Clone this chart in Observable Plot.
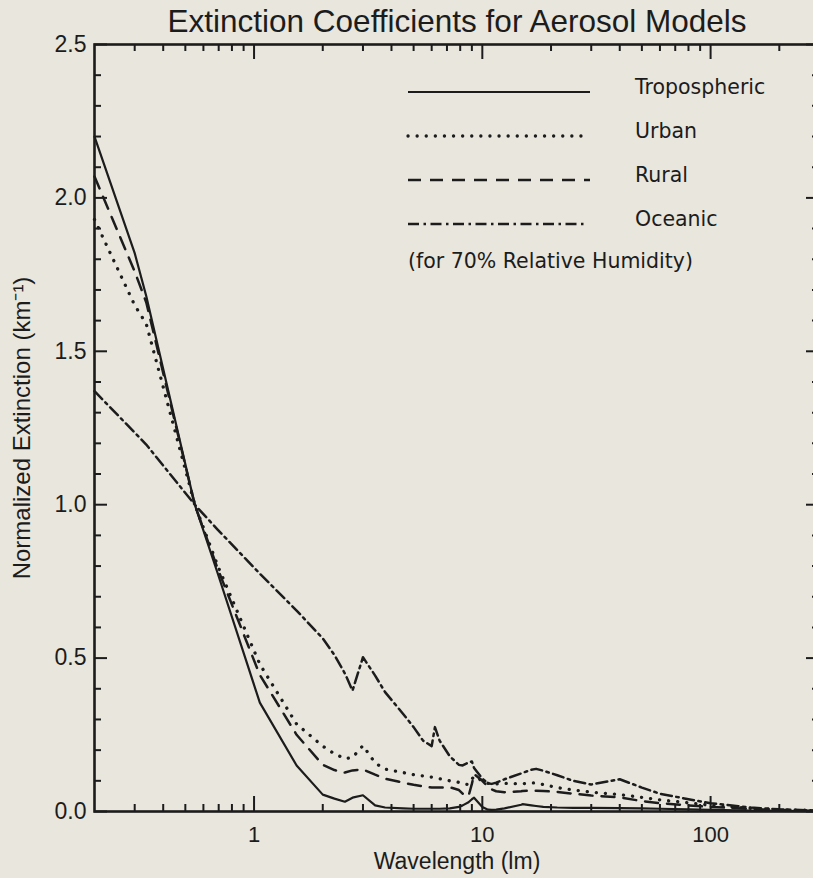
<!DOCTYPE html>
<html>
<head>
<meta charset="utf-8">
<script src="https://cdn.jsdelivr.net/npm/d3@7"></script>
<script src="https://cdn.jsdelivr.net/npm/@observablehq/plot@0.6"></script>
<style>
  html, body { margin: 0; padding: 0; background: #e8e6dd; overflow: hidden; }
  #chart { position: relative; width: 813px; height: 878px; overflow: hidden; }
  #chart svg { max-width: none !important; display: block; }
</style>
</head>
<body>
<div id="chart"></div>
<script>
// Wavelength grid (µm) of the aerosol extinction tables
const wavelengths = [0.2, 0.3, 0.337, 0.55, 0.694, 1.06, 1.536, 2.0, 2.25, 2.5, 2.7, 3.0,
  3.392, 3.75, 4.5, 5.0, 5.5, 6.0, 6.2, 6.5, 7.2, 7.9, 8.2, 8.7, 9.0, 9.2, 10.0, 10.591,
  11.0, 11.5, 12.5, 14.8, 15.0, 16.4, 17.2, 18.5, 21.3, 25.0, 30.0, 40.0, 50.0, 60.0,
  80.0, 100.0, 150.0, 200.0, 300.0];

// Extinction normalized to 1 at 0.55 µm, one array per aerosol model
const tropospheric = [2.20, 1.82, 1.68, 1.00, 0.775, 0.355, 0.15, 0.055, 0.042, 0.032, 0.045, 0.053,
  0.02, 0.013, 0.01, 0.009, 0.009, 0.009, 0.009, 0.009, 0.01, 0.015, 0.02, 0.03, 0.04, 0.045, 0.015, 0.006,
  0.005, 0.006, 0.01, 0.022, 0.024, 0.02, 0.018, 0.015, 0.013, 0.012, 0.012, 0.011, 0.01, 0.009,
  0.007, 0.005, 0.003, 0.002, 0.001];
const urban = [1.93, 1.65, 1.59, 1.00, 0.80, 0.48, 0.285, 0.213, 0.188, 0.172, 0.176, 0.215,
  0.158, 0.138, 0.127, 0.12, 0.116, 0.112, 0.11, 0.107, 0.10, 0.095, 0.09, 0.088, 0.105, 0.115, 0.10, 0.092,
  0.09, 0.09, 0.092, 0.09, 0.09, 0.093, 0.093, 0.088, 0.078, 0.07, 0.063, 0.055, 0.046, 0.038,
  0.028, 0.02, 0.01, 0.006, 0.003];
const rural = [2.07, 1.76, 1.66, 1.00, 0.79, 0.445, 0.25, 0.152, 0.135, 0.127, 0.134, 0.137,
  0.12, 0.107, 0.094, 0.087, 0.082, 0.078, 0.078, 0.078, 0.079, 0.07, 0.058, 0.05, 0.09, 0.122, 0.10, 0.08,
  0.072, 0.066, 0.063, 0.066, 0.067, 0.068, 0.068, 0.067, 0.064, 0.058, 0.052, 0.046, 0.034, 0.027,
  0.02, 0.015, 0.008, 0.005, 0.002];
const oceanic = [1.37, 1.235, 1.196, 1.00, 0.918, 0.775, 0.655, 0.564, 0.51, 0.45, 0.394, 0.503,
  0.443, 0.389, 0.318, 0.275, 0.231, 0.213, 0.275, 0.231, 0.18, 0.152, 0.15, 0.16, 0.163, 0.142, 0.107, 0.092,
  0.09, 0.094, 0.105, 0.124, 0.126, 0.136, 0.139, 0.133, 0.118, 0.10, 0.088, 0.105, 0.078, 0.058,
  0.04, 0.027, 0.013, 0.007, 0.003];

const modelNames = ["Tropospheric", "Urban", "Rural", "Oceanic"];
const modelValues = [tropospheric, urban, rural, oceanic];

// Axis ticks
const xMajorTicks = [1, 10, 100];
const xMinorTicks = [0.3, 0.4, 0.5, 0.6, 0.7, 0.8, 0.9, 2, 3, 4, 5, 6, 7, 8, 9,
  20, 30, 40, 50, 60, 70, 80, 90, 200];
const yMajorTicks = [0, 0.5, 1.0, 1.5, 2.0, 2.5];
const yMinorTicks = [0.1, 0.2, 0.3, 0.4, 0.6, 0.7, 0.8, 0.9, 1.1, 1.2, 1.3, 1.4,
  1.6, 1.7, 1.8, 1.9, 2.1, 2.2, 2.3, 2.4];

const titleText = "Extinction Coefficients for Aerosol Models";
const xLabel = "Wavelength (lm)";
const yLabel = "Normalized Extinction (km\u207B\u00B9)";
const noteText = "(for 70% Relative Humidity)";

// Tidy table built from the arrays above
const rows = modelNames.flatMap((name, k) =>
  wavelengths.map((w, i) => ({model: name, wavelength: w, extinction: modelValues[k][i]})));

const ink = "#1c1c1c";
const lineStyles = {
  Tropospheric: {strokeWidth: 2.2},
  Urban: {strokeWidth: 3.3, strokeDasharray: "0.1 9", strokeLinecap: "round"},
  Rural: {strokeWidth: 2.5, strokeDasharray: "13 9"},
  Oceanic: {strokeWidth: 2.5, strokeDasharray: "11 4.5 2.5 4.5"}
};

const W = 822, H = 878;
const mTop = 44, mBottom = 67, mLeft = 94, mRight = 3;
const frameW = W - mLeft - mRight, frameH = H - mTop - mBottom;
const major = 15, minorX = 7, majorY = 13, minorY = 7;

const plot = Plot.plot({
  width: W,
  height: H,
  marginTop: mTop,
  marginBottom: mBottom,
  marginLeft: mLeft,
  marginRight: mRight,
  style: {background: "transparent", fontFamily: "'Liberation Sans', Arial, sans-serif", fontSize: "23px", color: ink, maxWidth: "none"},
  x: {type: "log", domain: [0.2, 300]},
  y: {domain: [0, 2.5]},
  marks: [
    // curves
    ...modelNames.map(name => Plot.line(rows.filter(d => d.model === name), {
      x: "wavelength", y: "extinction", stroke: ink, strokeLinejoin: "round", ...lineStyles[name]
    })),
    // inward tick marks on all four sides
    Plot.tickX(xMajorTicks, {x: d => d, insetTop: frameH - major, stroke: ink, strokeWidth: 2}),
    Plot.tickX(xMinorTicks, {x: d => d, insetTop: frameH - minorX, stroke: ink, strokeWidth: 2}),
    Plot.tickX(xMajorTicks, {x: d => d, insetBottom: frameH - major, stroke: ink, strokeWidth: 2}),
    Plot.tickX(xMinorTicks, {x: d => d, insetBottom: frameH - minorX, stroke: ink, strokeWidth: 2}),
    Plot.tickY(yMajorTicks, {y: d => d, insetRight: frameW - majorY, stroke: ink, strokeWidth: 2}),
    Plot.tickY(yMinorTicks, {y: d => d, insetRight: frameW - minorY, stroke: ink, strokeWidth: 2}),
    Plot.tickY(yMajorTicks, {y: d => d, insetLeft: frameW - majorY, stroke: ink, strokeWidth: 2}),
    Plot.tickY(yMinorTicks, {y: d => d, insetLeft: frameW - minorY, stroke: ink, strokeWidth: 2}),
    Plot.frame({stroke: ink, strokeWidth: 2.6}),
    // tick labels
    Plot.axisX({ticks: xMajorTicks, tickSize: 0, tickPadding: 15, tickFormat: d => String(d), label: null, fill: ink, fontSize: 22}),
    Plot.axisY({ticks: yMajorTicks, tickSize: 0, tickPadding: 8, tickFormat: d3.format(".1f"), label: null, fill: ink, fontSize: 23}),
    // titles
    Plot.text([titleText], {text: d => d, frameAnchor: "top", lineAnchor: "middle", dy: -23, fontSize: 31.5, fill: ink}),
    Plot.text([xLabel], {text: d => d, frameAnchor: "bottom", lineAnchor: "middle", dy: 50, fontSize: 23, fill: ink}),
    Plot.text([yLabel], {text: d => d, frameAnchor: "left", lineAnchor: "middle", textAnchor: "middle", dx: -72, rotate: -90, fontSize: 24, fill: ink})
  ]
});

document.getElementById("chart").appendChild(plot);

// Legend drawn inside the upper right of the frame
const svg = d3.select(plot);
const legend = svg.append("g")
  .attr("font-family", "'DejaVu Sans', sans-serif")
  .attr("font-size", 20.5)
  .attr("text-anchor", "start")
  .attr("fill", ink);
modelNames.forEach((name, i) => {
  const y = 92 + i * 44;
  const st = lineStyles[name];
  legend.append("line")
    .attr("x1", 408).attr("x2", name === "Oceanic" ? 584 : 590)
    .attr("y1", y).attr("y2", y)
    .attr("stroke", ink)
    .attr("stroke-width", st.strokeWidth)
    .attr("stroke-dasharray", st.strokeDasharray || null)
    .attr("stroke-linecap", st.strokeLinecap || "butt");
  legend.append("text").attr("x", 635).attr("y", y + 2).attr("text-anchor", "start").text(name);
});
legend.append("text").attr("x", 408).attr("y", 268).attr("text-anchor", "start").text(noteText);
</script>
</body>
</html>
